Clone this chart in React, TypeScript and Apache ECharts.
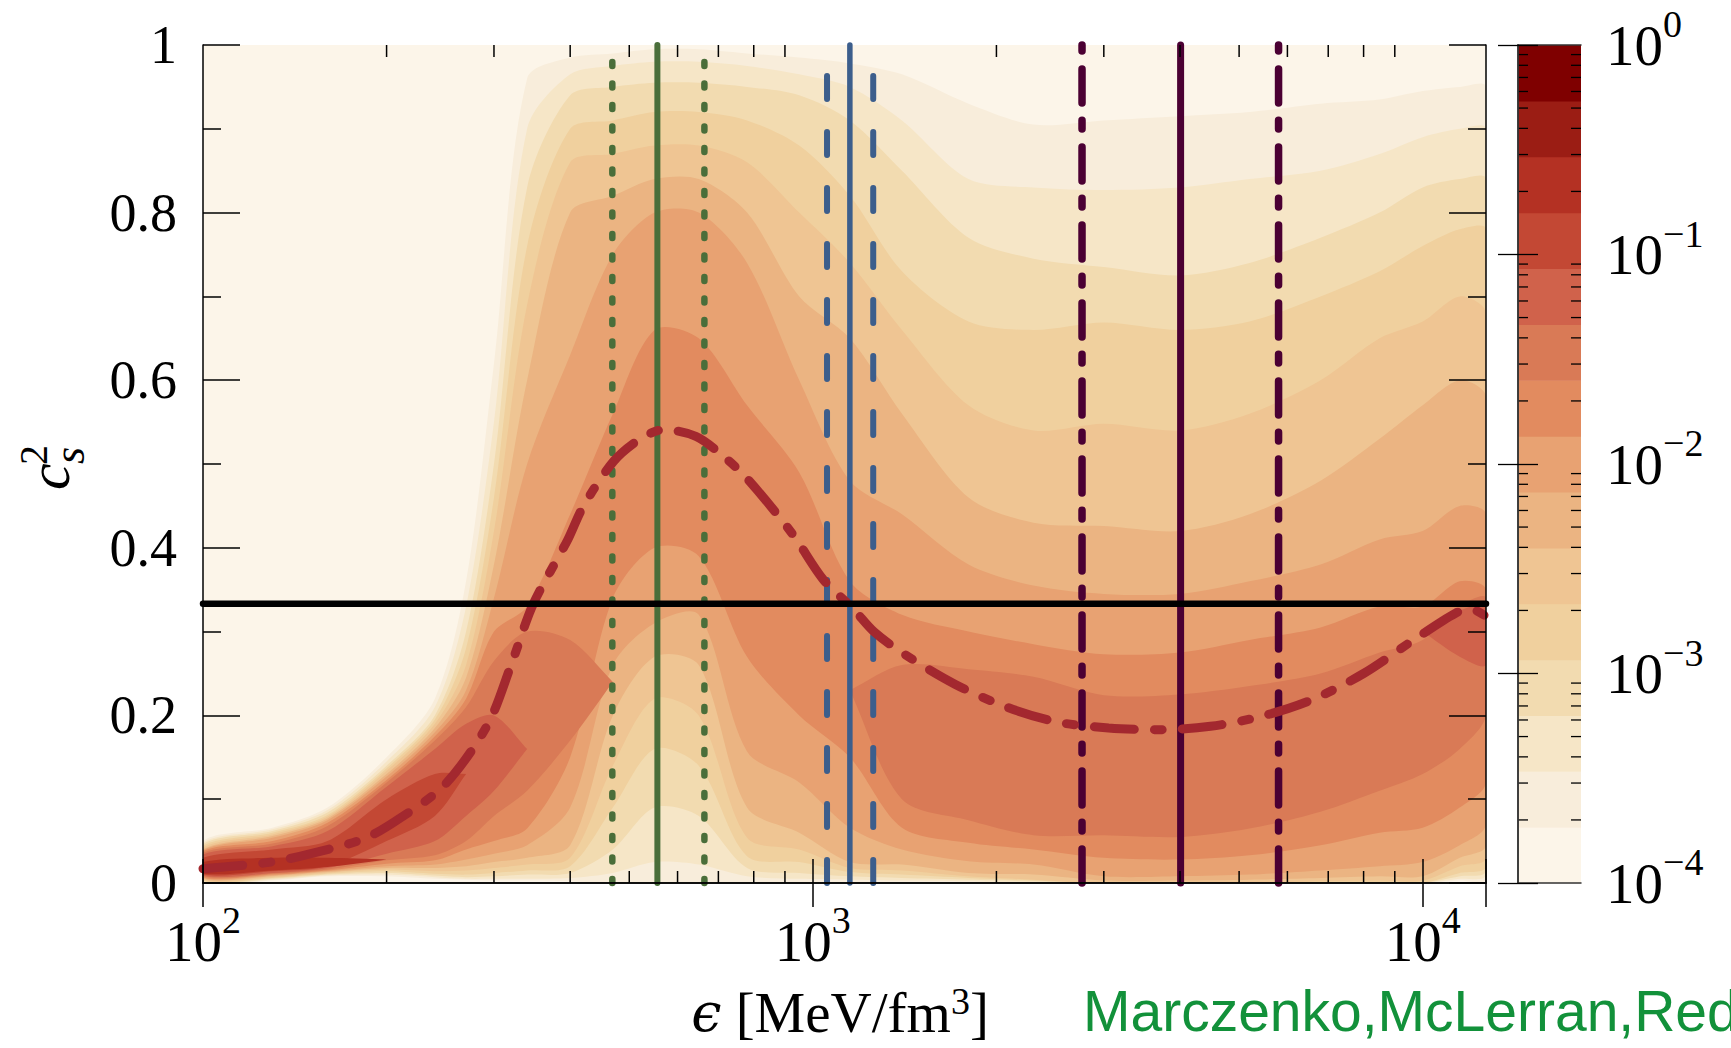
import React, { useEffect, useRef } from 'react';
import * as echarts from 'echarts';

// ---------- data ----------
// x nodes (energy density, MeV/fm^3) at which the density contours are sampled
const xNodes = [100, 130, 160, 200, 240, 270, 300, 340, 400, 470, 550, 650, 780, 950, 1150, 1400, 1800, 2300, 3000, 4000, 5200, 6800, 8500, 10000, 11500, 12700];

// [lower, upper] c_s^2 extent of each probability-density contour level (null = level absent)
const lvl14 = [[0, 0.05], [0.003, 0.066], [0.008, 0.09], [0.008, 0.15], [0.005, 0.22], [0.004, 0.36], [0.003, 0.62], [0.003, 0.96], [0.002, 0.985], [0, 0.99], [0, 0.995], [0, 0.995], [0, 0.99], [0, 0.985], [0, 0.978], [0, 0.965], [0, 0.93], [0, 0.905], [0, 0.91], [0, 0.915], [0, 0.92], [0, 0.93], [0, 0.935], [0, 0.945], [0.003, 0.95], [0.005, 0.95]];
const lvl13 = [[0.001, 0.048], [0.004, 0.064], [0.009, 0.087], [0.01, 0.145], [0.007, 0.21], [0.005, 0.33], [0.005, 0.55], [0.005, 0.9], [0.006, 0.965], [0.012, 0.975], [0.025, 0.98], [0.022, 0.98], [0.008, 0.975], [0.005, 0.965], [0.004, 0.95], [0.003, 0.91], [0.002, 0.84], [0, 0.83], [0, 0.827], [0, 0.83], [0, 0.84], [0, 0.85], [0, 0.87], [0, 0.89], [0.005, 0.9], [0.01, 0.9]];
const lvl12 = [[0.002, 0.046], [0.005, 0.062], [0.01, 0.084], [0.012, 0.14], [0.009, 0.2], [0.007, 0.3], [0.008, 0.5], [0.01, 0.83], [0.012, 0.94], [0.04, 0.95], [0.09, 0.955], [0.08, 0.955], [0.018, 0.95], [0.012, 0.94], [0.008, 0.91], [0.006, 0.85], [0.004, 0.77], [0.002, 0.745], [0, 0.735], [0, 0.725], [0, 0.74], [0, 0.77], [0, 0.8], [0, 0.83], [0.008, 0.84], [0.015, 0.84]];
const lvl11 = [[0.003, 0.044], [0.006, 0.06], [0.011, 0.081], [0.014, 0.137], [0.011, 0.195], [0.01, 0.28], [0.012, 0.46], [0.015, 0.76], [0.02, 0.9], [0.09, 0.91], [0.16, 0.92], [0.14, 0.92], [0.032, 0.91], [0.025, 0.88], [0.013, 0.82], [0.01, 0.73], [0.006, 0.67], [0.003, 0.66], [0, 0.669], [0, 0.66], [0, 0.67], [0, 0.7], [0, 0.73], [0, 0.76], [0.012, 0.78], [0.02, 0.78]];
const lvl10 = [[0.004, 0.042], [0.007, 0.058], [0.012, 0.079], [0.016, 0.134], [0.014, 0.19], [0.015, 0.26], [0.018, 0.42], [0.022, 0.69], [0.03, 0.86], [0.14, 0.87], [0.22, 0.88], [0.2, 0.88], [0.054, 0.86], [0.04, 0.8], [0.018, 0.74], [0.015, 0.66], [0.008, 0.57], [0.004, 0.54], [0, 0.548], [0, 0.54], [0, 0.56], [0.002, 0.6], [0.003, 0.65], [0.003, 0.67], [0.02, 0.7], [0.03, 0.68]];
const lvl9 = [[0.005, 0.04], [0.008, 0.056], [0.013, 0.077], [0.018, 0.13], [0.018, 0.185], [0.02, 0.245], [0.025, 0.38], [0.03, 0.6], [0.045, 0.8], [0.2, 0.82], [0.27, 0.84], [0.26, 0.84], [0.09, 0.8], [0.06, 0.7], [0.025, 0.65], [0.022, 0.56], [0.012, 0.46], [0.01, 0.43], [0.003, 0.426], [0.003, 0.42], [0.004, 0.44], [0.006, 0.48], [0.008, 0.53], [0.008, 0.57], [0.03, 0.6], [0.045, 0.58]];
const lvl8 = [[0.006, 0.039], [0.009, 0.054], [0.014, 0.075], [0.02, 0.127], [0.022, 0.18], [0.028, 0.23], [0.035, 0.34], [0.045, 0.5], [0.09, 0.63], [0.26, 0.75], [0.31, 0.8], [0.32, 0.8], [0.157, 0.74], [0.12, 0.6], [0.066, 0.48], [0.04, 0.44], [0.026, 0.38], [0.022, 0.355], [0.008, 0.345], [0.008, 0.345], [0.01, 0.36], [0.015, 0.38], [0.02, 0.41], [0.025, 0.42], [0.045, 0.45], [0.07, 0.44]];
const lvl7 = [[0.007, 0.038], [0.01, 0.05], [0.015, 0.072], [0.023, 0.123], [0.027, 0.175], [0.04, 0.22], [0.05, 0.3], [0.065, 0.33], [0.15, 0.44], [0.34, 0.56], [0.4, 0.66], [0.39, 0.65], [0.27, 0.57], [0.2, 0.49], [0.15, 0.36], [0.066, 0.32], [0.048, 0.3], [0.04, 0.285], [0.03, 0.273], [0.028, 0.275], [0.033, 0.29], [0.045, 0.305], [0.06, 0.33], [0.066, 0.33], [0.09, 0.36], [0.12, 0.35]];
const lvl6 = [[0.008, 0.036], [0.011, 0.047], [0.016, 0.068], [0.027, 0.12], [0.033, 0.17], [0.05, 0.21], [0.08, 0.265], [0.11, 0.3], [0.17, 0.29], [0.24, 0.24], null, null, null, null, [0.23, 0.23], [0.1, 0.26], [0.075, 0.255], [0.057, 0.246], [0.057, 0.224], [0.055, 0.225], [0.065, 0.235], [0.085, 0.25], [0.11, 0.275], [0.13, 0.29], [0.16, 0.33], [0.2, 0.34]];
const lvl5 = [[0.009, 0.034], [0.012, 0.044], [0.018, 0.062], [0.035, 0.115], [0.05, 0.16], [0.08, 0.19], [0.11, 0.2], [0.16, 0.16], null, null, null, null, null, null, null, null, null, null, null, null, null, null, null, [0.3, 0.3], [0.27, 0.325], [0.26, 0.33]];
const lvl4 = [[0.01, 0.03], [0.014, 0.04], [0.02, 0.05], [0.05, 0.1], [0.08, 0.13], [0.13, 0.13], null, null, null, null, null, null, null, null, null, null, null, null, null, null, null, null, null, null, null, null];
const lvl3 = [[0.011, 0.025], [0.015, 0.03], [0.019, 0.03], [0.028, 0.028], null, null, null, null, null, null, null, null, null, null, null, null, null, null, null, null, null, null, null, null, null, null];

// median c_s^2 curve
const medianX = [100, 114, 132, 152, 184, 210, 249, 293, 320, 348, 396, 420, 471, 521, 570, 643, 706, 777, 925, 1038, 1165, 1259, 1413, 1713, 2077, 2519, 3055, 3700, 4487, 5447, 6598, 8000, 9707, 11320, 12000, 12700];
const medianY = [0.017, 0.0205, 0.026, 0.036, 0.053, 0.077, 0.117, 0.189, 0.26, 0.333, 0.409, 0.449, 0.503, 0.53, 0.541, 0.533, 0.512, 0.484, 0.417, 0.363, 0.327, 0.3, 0.273, 0.237, 0.21, 0.192, 0.185, 0.183, 0.187, 0.199, 0.219, 0.25, 0.291, 0.322, 0.327, 0.318];

// vertical markers: [lower, central, upper]
const greenMarks = [469, 556, 664];
const blueMarks = [1055, 1150, 1256];
const purpleMarks = [2763, 4009, 5803];
const conformalLimit = 1 / 3;

const xMin = 100;
const xMax = 12700;
const xMinorTicks = [200, 300, 400, 500, 600, 700, 800, 900, 2000, 3000, 4000, 5000, 6000, 7000, 8000, 9000];

// colour bar (probability density, log scale)
const cbEdges = [1e-4, 1.848e-4, 3.415e-4, 6.31e-4, 1.166e-3, 2.154e-3, 3.981e-3, 7.356e-3, 1.359e-2, 2.512e-2, 4.642e-2, 8.577e-2, 0.1585, 0.2929, 0.5412, 1];
const cbMinorTicks = [2e-4, 3e-4, 4e-4, 5e-4, 6e-4, 7e-4, 8e-4, 9e-4, 2e-3, 3e-3, 4e-3, 5e-3, 6e-3, 7e-3, 8e-3, 9e-3, 2e-2, 3e-2, 4e-2, 5e-2, 6e-2, 7e-2, 8e-2, 9e-2, 0.2, 0.3, 0.4, 0.5, 0.6, 0.7, 0.8, 0.9];

// ---------- styles ----------
const cbColors = ['#fcf5e9', '#f8eddb', '#f6e6c7', '#f2dbb0', '#f0d09e', '#efc593', '#ebb482', '#e8a272', '#e28b5f', '#d97a56', '#d0624b', '#c34834', '#b43123', '#9b1d14', '#7f0000'];
const levels = [lvl14, lvl13, lvl12, lvl11, lvl10, lvl9, lvl8, lvl7, lvl6, lvl5, lvl4, lvl3];
const levelColors = cbColors.slice(1, 13);

const SERIF = '"Liberation Serif", "DejaVu Serif", serif';

const powLabel = (v: number) => {
  const e = Math.log10(v);
  const r = Math.round(e);
  if (Math.abs(e - r) > 1e-6) return '';
  return `{b|10}{s|${r < 0 ? '\u2212' + -r : r}}`;
};

const richPow = {
  b: { fontSize: 57, lineHeight: 80, fontFamily: SERIF, color: '#000' },
  s: { fontSize: 38, lineHeight: 48, verticalAlign: 'top', fontFamily: SERIF, color: '#000' },
};

export default function App() {
  const ref = useRef<HTMLDivElement>(null);

  useEffect(() => {
    document.body.style.margin = '0';
    document.body.style.overflow = 'hidden';
    const chart = echarts.init(ref.current as HTMLDivElement, null, { renderer: 'svg' });

    const vline = (x: number, color: string, width: number, type: any) => ({
      type: 'line',
      xAxisIndex: 0,
      yAxisIndex: 0,
      data: [[x, 0], [x, 1]],
      showSymbol: false,
      symbol: 'none',
      clip: false,
      silent: true,
      z: 3,
      lineStyle: { color, width, type, cap: 'round' },
    });

    const tickStyle = { stroke: '#000', lineWidth: 1.5 };

    const option: any = {
      animation: false,
      backgroundColor: '#ffffff',
      grid: [
        { left: 203, top: 45, width: 1283, height: 838, show: true, backgroundColor: '#fcf5e9', borderWidth: 0 },
        { left: 1518, top: 45, width: 63, height: 838, show: false },
      ],
      xAxis: [
        {
          gridIndex: 0, type: 'log', logBase: 10, min: xMin, max: xMax, position: 'bottom', z: 10,
          axisLine: { show: true, lineStyle: { color: '#000', width: 1.5 } },
          axisTick: { show: true, inside: true, length: 24, lineStyle: { color: '#000', width: 1.5 } },
          axisLabel: { show: true, margin: 18, formatter: powLabel, rich: richPow },
          splitLine: { show: false },
        },
        {
          gridIndex: 0, type: 'log', logBase: 10, min: xMin, max: xMax, position: 'top', z: 10,
          axisLine: { show: true, lineStyle: { color: '#000', width: 1.5 } },
          axisTick: { show: true, inside: true, length: 24, lineStyle: { color: '#000', width: 1.5 } },
          axisLabel: { show: false },
          splitLine: { show: false },
        },
        {
          gridIndex: 1, type: 'value', min: 0, max: 1, position: 'bottom', z: 10,
          axisLine: { show: true, lineStyle: { color: '#333', width: 1.5 } },
          axisTick: { show: false }, axisLabel: { show: false }, splitLine: { show: false },
        },
        {
          gridIndex: 1, type: 'value', min: 0, max: 1, position: 'top', z: 10,
          axisLine: { show: true, lineStyle: { color: '#333', width: 1.5 } },
          axisTick: { show: false }, axisLabel: { show: false }, splitLine: { show: false },
        },
      ],
      yAxis: [
        {
          gridIndex: 0, type: 'value', min: 0, max: 1, interval: 0.2, position: 'left', z: 10,
          axisLine: { show: true, lineStyle: { color: '#000', width: 1.5 } },
          axisTick: { show: true, inside: true, length: 37, lineStyle: { color: '#000', width: 1.5 } },
          minorTick: { show: true, splitNumber: 2, length: 18, lineStyle: { color: '#000', width: 1.5 } },
          axisLabel: { show: true, margin: 26, fontSize: 54, fontFamily: SERIF, color: '#000' },
          splitLine: { show: false },
        },
        {
          gridIndex: 0, type: 'value', min: 0, max: 1, interval: 0.2, position: 'right', z: 10,
          axisLine: { show: true, lineStyle: { color: '#000', width: 1.5 } },
          axisTick: { show: true, inside: true, length: 37, lineStyle: { color: '#000', width: 1.5 } },
          minorTick: { show: true, splitNumber: 2, length: 18, lineStyle: { color: '#000', width: 1.5 } },
          axisLabel: { show: false },
          splitLine: { show: false },
        },
        {
          gridIndex: 1, type: 'log', logBase: 10, min: 1e-4, max: 1, position: 'right', z: 10,
          axisLine: { show: true, lineStyle: { color: '#333', width: 1.5 } },
          axisTick: { show: true, inside: true, length: 20, lineStyle: { color: '#000', width: 1.3 } },
          axisLabel: { show: true, margin: 25, formatter: powLabel, rich: richPow },
          splitLine: { show: false },
        },
        {
          gridIndex: 1, type: 'log', logBase: 10, min: 1e-4, max: 1, position: 'left', z: 10,
          axisLine: { show: true, lineStyle: { color: '#333', width: 1.5 } },
          axisTick: { show: true, inside: true, length: 20, lineStyle: { color: '#000', width: 1.3 } },
          axisLabel: { show: false },
          splitLine: { show: false },
        },
      ],
      series: [
        // density contours
        {
          type: 'custom',
          coordinateSystem: 'cartesian2d',
          xAxisIndex: 0,
          yAxisIndex: 0,
          clip: true,
          silent: true,
          z: 1,
          data: levels.map(() => [xMin, 0.5]),
          renderItem: (params: any, api: any) => {
            const lvl = levels[params.dataIndex] as any[];
            const children: any[] = [];
            let run: number[] = [];
            const flush = () => {
              if (run.length >= 2) {
                const upper = run.map((i) => api.coord([xNodes[i], lvl[i][1]]));
                const lower = run.slice().reverse().map((i) => api.coord([xNodes[i], lvl[i][0]]));
                children.push({
                  type: 'polygon',
                  shape: { points: upper.concat(lower), smooth: 0.3 },
                  style: { fill: levelColors[params.dataIndex] },
                });
              }
              run = [];
            };
            lvl.forEach((v, i) => {
              if (v) run.push(i);
              else flush();
            });
            flush();
            return { type: 'group', children };
          },
        },
        // x minor ticks (bottom and top)
        {
          type: 'custom',
          coordinateSystem: 'cartesian2d',
          xAxisIndex: 0,
          yAxisIndex: 0,
          silent: true,
          z: 10,
          data: xMinorTicks.map((v) => [v, 0.5]),
          renderItem: (params: any, api: any) => {
            const v = api.value(0);
            const b = api.coord([v, 0]);
            const t = api.coord([v, 1]);
            return {
              type: 'group',
              children: [
                { type: 'line', shape: { x1: b[0], y1: b[1], x2: b[0], y2: b[1] - 12 }, style: tickStyle },
                { type: 'line', shape: { x1: t[0], y1: t[1], x2: t[0], y2: t[1] + 12 }, style: tickStyle },
              ],
            };
          },
        },
        vline(greenMarks[0], '#4a6e3a', 6.5, [4, 17.5]),
        vline(greenMarks[1], '#4a6e3a', 6, 'solid'),
        vline(greenMarks[2], '#4a6e3a', 6.5, [4, 17.5]),
        vline(blueMarks[0], '#3c5e8c', 6, [23, 33]),
        vline(blueMarks[1], '#3c5e8c', 5.5, 'solid'),
        vline(blueMarks[2], '#3c5e8c', 6, [23, 33]),
        vline(purpleMarks[0], '#4b0033', 7.5, [34, 18, 8.7, 17.3]),
        vline(purpleMarks[1], '#4b0033', 7, 'solid'),
        vline(purpleMarks[2], '#4b0033', 7.5, [34, 18, 8.7, 17.3]),
        // median
        {
          type: 'line',
          xAxisIndex: 0,
          yAxisIndex: 0,
          data: medianX.map((x, i) => [x, medianY[i]]),
          smooth: 0.3,
          showSymbol: false,
          symbol: 'none',
          clip: false,
          silent: true,
          z: 4,
          lineStyle: { color: '#a3282f', width: 9, type: [40, 20, 8, 20], cap: 'round' },
        },
        // conformal limit
        {
          type: 'line',
          xAxisIndex: 0,
          yAxisIndex: 0,
          data: [[xMin, conformalLimit], [xMax, conformalLimit]],
          showSymbol: false,
          symbol: 'none',
          clip: false,
          silent: true,
          z: 5,
          lineStyle: { color: '#000', width: 6.5, cap: 'round' },
        },
        // colour bar bands
        {
          type: 'custom',
          coordinateSystem: 'cartesian2d',
          xAxisIndex: 2,
          yAxisIndex: 2,
          silent: true,
          z: 2,
          data: cbColors.map((_, i) => [0.5, cbEdges[i]]),
          renderItem: (params: any, api: any) => {
            const i = params.dataIndex;
            const p0 = api.coord([0, cbEdges[i]]);
            const p1 = api.coord([1, cbEdges[i + 1]]);
            return {
              type: 'rect',
              shape: { x: p0[0], y: p1[1], width: p1[0] - p0[0], height: p0[1] - p1[1] + 0.6 },
              style: { fill: cbColors[i] },
            };
          },
        },
        // colour bar minor ticks
        {
          type: 'custom',
          coordinateSystem: 'cartesian2d',
          xAxisIndex: 2,
          yAxisIndex: 2,
          silent: true,
          z: 10,
          data: cbMinorTicks.map((v) => [0.5, v]),
          renderItem: (params: any, api: any) => {
            const v = api.value(1);
            const l = api.coord([0, v]);
            const r = api.coord([1, v]);
            const st = { stroke: '#000', lineWidth: 1.3 };
            return {
              type: 'group',
              children: [
                { type: 'line', shape: { x1: l[0], y1: l[1], x2: l[0] + 10, y2: l[1] }, style: st },
                { type: 'line', shape: { x1: r[0], y1: r[1], x2: r[0] - 10, y2: r[1] }, style: st },
              ],
            };
          },
        },
      ],
      graphic: [
        {
          type: 'group',
          x: 67,
          y: 490,
          rotation: Math.PI / 2,
          children: [
            { type: 'text', x: 0, y: -18, style: { text: 'c', fontSize: 60, fontStyle: 'italic', fontFamily: SERIF, fill: '#000', align: 'left', verticalAlign: 'middle' } },
            { type: 'text', x: 25, y: -34, style: { text: '2', fontSize: 40, fontFamily: SERIF, fill: '#000', align: 'left', verticalAlign: 'middle' } },
            { type: 'text', x: 26, y: 2, style: { text: 's', fontSize: 44, fontStyle: 'italic', fontFamily: SERIF, fill: '#000', align: 'left', verticalAlign: 'middle' } },
          ],
        },
        {
          type: 'text',
          x: 840,
          y: 1012,
          style: {
            text: '{e|\u03f5}{n| [MeV/fm}{s|3}{n|]}',
            align: 'center',
            verticalAlign: 'middle',
            rich: {
              e: { fontSize: 54, lineHeight: 60, fontFamily: '"DejaVu Serif", serif', fontStyle: 'italic', color: '#000' },
              n: { fontSize: 57, lineHeight: 60, fontFamily: SERIF, color: '#000' },
              s: { fontSize: 38, lineHeight: 22, verticalAlign: 'top', fontFamily: SERIF, color: '#000' },
            },
          },
        },
        {
          type: 'text',
          x: 1083,
          y: 1011,
          style: {
            text: 'Marczenko,McLerran,Redlich,Sasaki',
            fontSize: 57,
            fontFamily: '"Liberation Sans", Arial, sans-serif',
            fill: '#12913a',
            align: 'left',
            verticalAlign: 'middle',
          },
        },
      ],
    };

    chart.setOption(option);
    return () => chart.dispose();
  }, []);

  return <div ref={ref} style={{ width: 1731, height: 1048 }} />;
}
